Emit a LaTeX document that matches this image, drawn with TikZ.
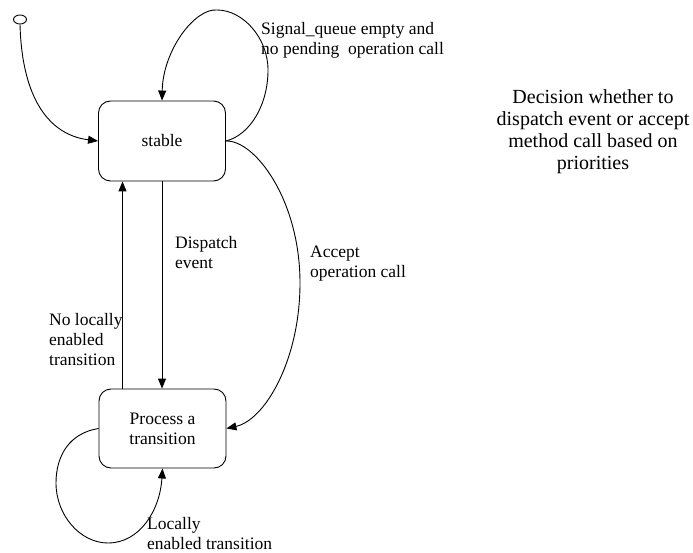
\documentclass[tikz,border=0pt]{standalone}
\usepackage{fontspec}
\setmainfont{LiberationSerif}[Extension=.ttf,UprightFont=*-Regular,BoldFont=*-Bold,ItalicFont=*-Italic]
\usetikzlibrary{arrows.meta,shapes.geometric}
\begin{document}
\begin{tikzpicture}[x=1pt,y=-1pt,
  state/.style={draw,line width=0.9pt,rounded corners=12pt,minimum width=127pt,
    minimum height=80pt,inner sep=0pt,align=center,font=\rmfamily\fontsize{17.5}{20}\selectfont},
  lbl/.style={anchor=north west,inner sep=0pt,align=left,font=\rmfamily\fontsize{17.5}{20}\selectfont},
  trans/.style={line width=0.9pt,-{Triangle[length=10pt,width=8pt]}},
  every node/.style={text=black}]
\useasboundingbox (0,0) rectangle (693,553);

% states
\node[draw,ellipse,line width=0.9pt,minimum width=13pt,minimum height=9pt,inner sep=0pt] (init) at (20,19.5) {};
\node[state] (stable) at (162,141) {stable};
\node[state,minimum height=79pt] (proc) at (162.5,428.5) {Process a\\transition};

% initial transition
\draw[trans] (init.south) .. controls (22,100) and (50,135) .. (stable.west);

% self loop on stable
\draw[trans] (stable.east) .. controls (250,135) and (268,105) .. (268,70)
  .. controls (268,38) and (243,10) .. (217,10)
  .. controls (195,8) and (163,50) .. (stable.north);

% dispatch event
\draw[trans] (stable.south) -- (proc.north -| stable.south);

% no locally enabled transition
\draw[trans] ([xshift=-40pt]proc.north) -- ([xshift=-40pt]proc.north |- stable.south);

% accept operation call
\draw[trans] (stable.east) .. controls (255,140) and (300,200) .. (300,283)
  .. controls (300,360) and (265,420) .. (proc.east);

% self loop on process
\draw[trans] (proc.west) .. controls (70,433) and (56,455) .. (56,483)
  .. controls (56,515) and (80,543) .. (108,543)
  .. controls (140,543) and (160,510) .. (proc.south);

% labels
\node[lbl] (lsig) at (261,22) {Signal\_queue empty and\\no pending\ \ operation call};
\node[lbl] (ldisp) at (175,236) {Dispatch\\event};
\node[lbl] (lacc) at (310,246) {Accept\\operation call};
\node[lbl] (lnoloc) at (49,313) {No locally\\enabled\\transition};
\node[lbl] (lloc) at (147,517) {Locally\\enabled transition};
\node[anchor=north,inner sep=0pt,align=center,font=\rmfamily\fontsize{20}{22}\selectfont] (ldec) at (593,89.3)
  {Decision whether to\\dispatch event or accept\\method call based on\\priorities};
\end{tikzpicture}
\end{document}
